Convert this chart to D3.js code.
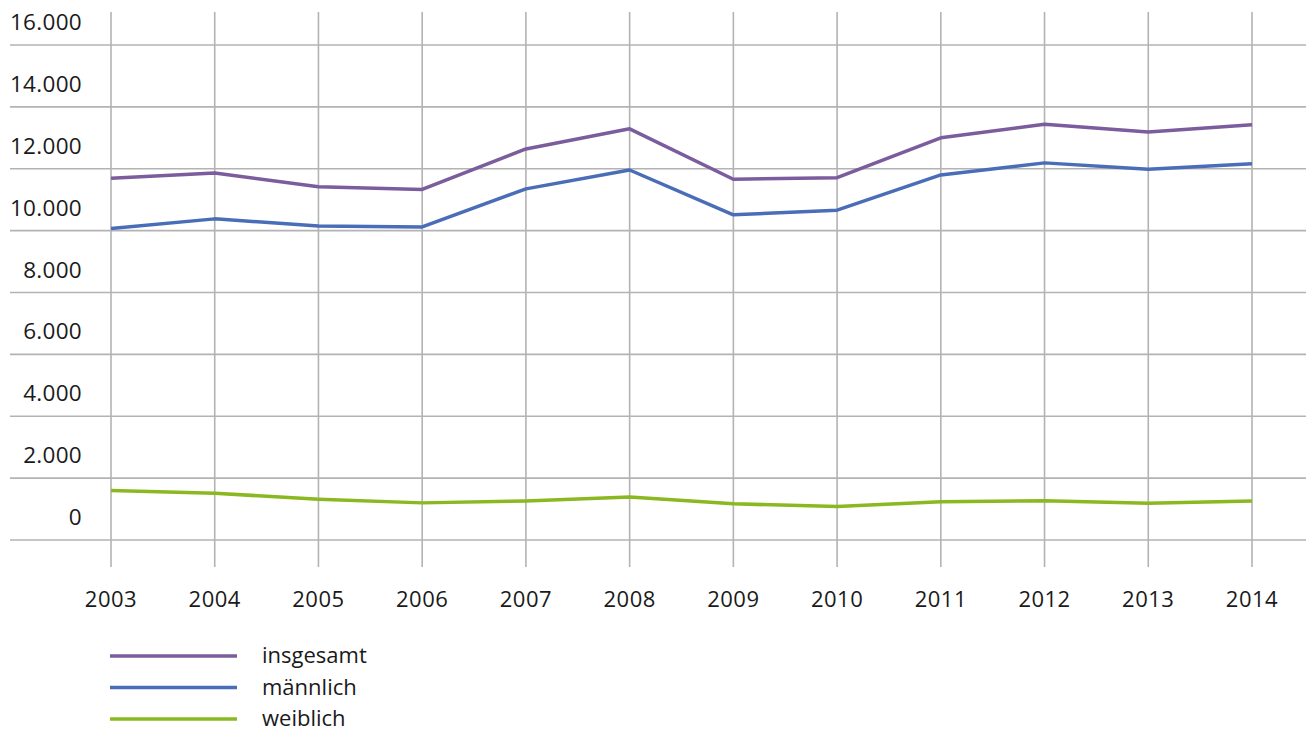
<!DOCTYPE html>
<html>
<head>
<meta charset="utf-8">
<script src="https://cdn.jsdelivr.net/npm/d3@7/dist/d3.min.js"></script>
<style>
  html, body { margin: 0; padding: 0; background: #fff; }
  svg { display: block; }
  text { font-family: "Open Sans", "Noto Sans", sans-serif; fill: #1a1a1a; }
</style>
</head>
<body>
<svg id="chart" width="1306" height="731"></svg>
<script>
const years = [2003, 2004, 2005, 2006, 2007, 2008, 2009, 2010, 2011, 2012, 2013, 2014];
const insgesamt = [11690, 11860, 11420, 11330, 12640, 13290, 11660, 11710, 13000, 13440, 13190, 13420];
const maennlich = [10070, 10380, 10150, 10120, 11350, 11960, 10510, 10660, 11800, 12190, 11980, 12160];
const weiblich  = [1600, 1510, 1320, 1200, 1260, 1390, 1170, 1080, 1240, 1270, 1190, 1260];
const yTicks = [0, 2000, 4000, 6000, 8000, 10000, 12000, 14000, 16000];
const seriesNames = ["insgesamt", "männlich", "weiblich"];
const seriesColors = ["#7b5c9c", "#4a6db8", "#8ab820"];

const svg = d3.select("#chart");
const x = d3.scalePoint().domain(years).range([111, 1252]);
const y = d3.scaleLinear().domain([0, 16000]).range([540, 45]);
const fmt = v => d3.format(",")(v).replace(/,/g, ".");

const grid = svg.append("g");
grid.selectAll("line.h").data(yTicks).join("line")
  .attr("x1", 10).attr("x2", 1306)
  .attr("y1", d => y(d)).attr("y2", d => y(d))
  .attr("stroke", "#b3b3b3").attr("stroke-width", 1.6);
grid.selectAll("line.v").data(years).join("line")
  .attr("x1", d => x(d)).attr("x2", d => x(d))
  .attr("y1", 12).attr("y2", 567)
  .attr("stroke", "#b3b3b3").attr("stroke-width", 1.6);

svg.append("g").selectAll("text").data(yTicks).join("text")
  .attr("x", 82).attr("y", d => y(d) - 15)
  .attr("text-anchor", "end").attr("font-size", 22.5)
  .attr("letter-spacing", 0.3)
  .text(d => fmt(d));

svg.append("g").selectAll("text").data(years).join("text")
  .attr("x", d => x(d)).attr("y", 607)
  .attr("text-anchor", "middle").attr("font-size", 22)
  .attr("letter-spacing", 0.5)
  .text(d => d);

const allSeries = [insgesamt, maennlich, weiblich];
const line = d3.line().x((d, i) => x(years[i])).y(d => y(d));
allSeries.forEach((s, k) => {
  svg.append("path").datum(s)
    .attr("d", line)
    .attr("fill", "none")
    .attr("stroke", seriesColors[k])
    .attr("stroke-width", 3.5)
    .attr("stroke-linejoin", "round");
});

const legend = svg.append("g");
seriesNames.forEach((n, k) => {
  const ly = 656 + k * 31.5;
  legend.append("line").attr("x1", 110).attr("x2", 237)
    .attr("y1", ly).attr("y2", ly)
    .attr("stroke", seriesColors[k]).attr("stroke-width", 3.5);
  legend.append("text").attr("x", 262).attr("y", ly + 7)
    .attr("font-size", 22).text(n);
});
</script>
</body>
</html>
